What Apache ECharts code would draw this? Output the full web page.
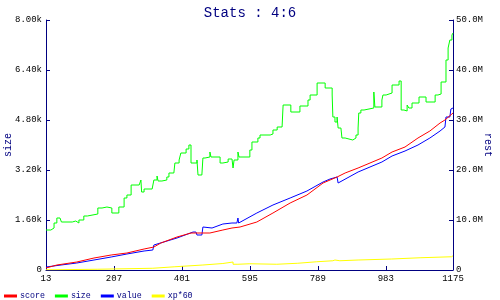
<!DOCTYPE html>
<html><head><meta charset="utf-8">
<script src="https://cdn.jsdelivr.net/npm/echarts@6/dist/echarts.min.js"></script>
<style>html,body{margin:0;padding:0;background:#fff}#c{width:500px;height:300px}</style>
</head><body><div id="c"></div>
<script>
const titleText = 'Stats : 4:6';
const legendNames = ['score', 'size', 'value', 'xp*60'];
const xTicks = [13, 207, 401, 595, 789, 983, 1175];
// size (left axis)
const sizeData = [[13,1280],[27,1344],[36,1504],[44,1664],[53,1696],[57,1536],[88,1568],[98,1504],[107,1600],[121,1728],[131,1792],[161,1984],[173,2016],[187,1984],[201,1824],[221,2016],[236,2304],[244,2400],[256,2720],[279,2752],[284,2880],[286,2496],[293,2592],[316,2528],[321,2880],[330,3008],[333,2848],[344,2880],[358,2976],[364,3104],[378,3136],[381,3424],[393,3520],[398,3744],[413,3872],[421,4000],[427,3424],[444,3520],[447,3040],[458,3104],[461,3584],[467,3616],[481,3776],[484,3616],[510,3424],[518,3456],[533,3552],[544,3520],[547,3264],[550,3520],[561,3776],[564,3616],[595,3840],[601,4096],[618,4224],[624,4320],[653,4352],[661,4480],[673,4576],[687,4608],[690,5280],[712,5056],[738,5248],[761,5440],[767,5600],[787,5984],[810,5824],[830,5600],[832,4896],[838,4736],[844,4896],[847,4544],[855,4608],[858,4224],[867,4160],[889,4224],[898,4320],[904,4544],[906,5024],[912,5120],[921,5184],[949,5696],[952,5216],[972,5440],[975,5600],[984,5664],[1001,5920],[1021,6048],[1027,5120],[1035,5088],[1044,5280],[1049,5184],[1058,5344],[1078,5536],[1098,5376],[1124,5600],[1132,5632],[1141,6016],[1155,6720],[1161,7104],[1166,7360],[1172,7520],[1175,7584]];
// score (right axis, millions)
const scoreData = [[13,0.4],[44,1.0],[101,1.6],[150,2.4],[199,3.0],[244,3.4],[293,4.2],[321,4.6],[341,5.4],[387,6.6],[427,7.4],[441,7.4],[446,7.0],[481,7.4],[518,8.0],[544,8.4],[567,8.6],[615,9.6],[661,11.4],[710,13.4],[758,15.0],[804,17.4],[824,18.0],[844,18.6],[867,19.4],[904,20.4],[938,21.4],[972,22.4],[1001,23.6],[1038,24.6],[1075,26.4],[1109,27.8],[1138,29.4],[1152,30.0],[1175,31.4]];
// value (right axis, millions)
const valueData = [[13,0.6],[56,1.0],[101,1.4],[150,2.0],[199,2.6],[244,3.2],[293,3.8],[318,4.0],[321,5.0],[387,6.4],[433,7.6],[441,7.6],[444,7.0],[458,7.0],[461,8.6],[487,8.4],[518,9.2],[544,9.4],[558,9.4],[561,10.4],[563,9.4],[567,9.5],[615,11.4],[661,13.0],[710,14.4],[758,15.8],[804,17.6],[824,18.2],[844,18.6],[847,17.4],[904,19.6],[938,20.6],[972,21.6],[1001,22.8],[1038,23.8],[1075,25.0],[1109,26.4],[1138,27.8],[1152,28.6],[1155,30.6],[1166,30.6],[1169,32.2],[1175,32.4]];
// xp*60 (right axis, millions)
const xpData = [[13,0.05],[33,0.15],[159,0.35],[318,0.65],[381,1.0],[461,1.3],[518,1.6],[547,1.15],[561,1.25],[595,1.15],[672,1.35],[732,1.65],[786,1.85],[832,2.0],[838,1.85],[852,2.0],[904,2.2],[1000,2.45],[1081,2.65],[1171,2.85],[1175,2.85]];

const NAVY = '#000080';
const MONO = '"Liberation Mono", "DejaVu Sans Mono", monospace';
const toM = arr => arr.map(p => [p[0], p[1] * 1e6]);
const chart = echarts.init(document.getElementById('c'), null, {renderer: 'canvas'});
const lineS = (name, data, color, yIdx, step) => ({
  name, type: 'line', data, yAxisIndex: yIdx, step, showSymbol: false, symbol: 'none',
  lineStyle: {color, width: 1}, itemStyle: {color}, animation: false, z: name === 'size' ? 2 : 3
});
chart.setOption({
  animation: false,
  title: {text: titleText, left: 'center', top: 1, textStyle: {color: NAVY, fontFamily: MONO, fontSize: 14, fontWeight: 'normal'}},
  legend: {data: legendNames, left: 4, bottom: 0, padding: 0, icon: 'rect', itemWidth: 13, itemHeight: 3, itemGap: 10,
    textStyle: {color: NAVY, fontFamily: MONO, fontSize: 8.3, padding: [0,0,0,-2]}},
  grid: {left: 46, right: 47, top: 20, bottom: 30, containLabel: false, outerBoundsMode: 'none'},
  xAxis: {type: 'value', min: xTicks[0], max: xTicks[xTicks.length-1], interval: xTicks[1]-xTicks[0],
    axisLine: {lineStyle: {color: NAVY, width: 1}}, axisTick: {inside: true, length: 4, lineStyle: {color: NAVY}},
    axisLabel: {color: '#000', fontFamily: MONO, fontSize: 9, margin: 4, showMaxLabel: true, showMinLabel: true, formatter: v => String(v)}, splitLine: {show: false}},
  yAxis: [
    {type: 'value', name: 'size', nameLocation: 'middle', nameGap: 33, nameMoveOverlap: false, nameTextStyle: {color: NAVY, fontFamily: MONO, fontSize: 10},
     min: 0, max: 8000, interval: 1600, position: 'left',
     axisLine: {show: true, lineStyle: {color: NAVY}}, axisTick: {show: true, inside: true, length: 4, lineStyle: {color: NAVY}},
     axisLabel: {color: '#000', fontFamily: MONO, fontSize: 9, margin: 4, formatter: v => v === 0 ? '0' : (v/1000).toFixed(2) + 'k'},
     splitLine: {show: false}},
    {type: 'value', name: 'rest', nameLocation: 'middle', nameGap: 30, nameMoveOverlap: false, nameRotate: -90, nameTextStyle: {color: NAVY, fontFamily: MONO, fontSize: 10},
     min: 0, max: 50e6, interval: 10e6, position: 'right',
     axisLine: {show: true, lineStyle: {color: NAVY}}, axisTick: {show: true, inside: true, length: 4, lineStyle: {color: NAVY}},
     axisLabel: {color: '#000', fontFamily: MONO, fontSize: 9, margin: 3, formatter: v => v === 0 ? '0' : (v/1e6).toFixed(1) + 'M'},
     splitLine: {show: false}}
  ],
  series: [
    lineS('size', sizeData, '#00ff00', 0, 'end'),
    lineS('xp*60', toM(xpData), '#ffff00', 1, 'end'),
    lineS('value', toM(valueData), '#0000ff', 1, false),
    lineS('score', toM(scoreData), '#ff0000', 1, false)
  ]
});
</script></body></html>
